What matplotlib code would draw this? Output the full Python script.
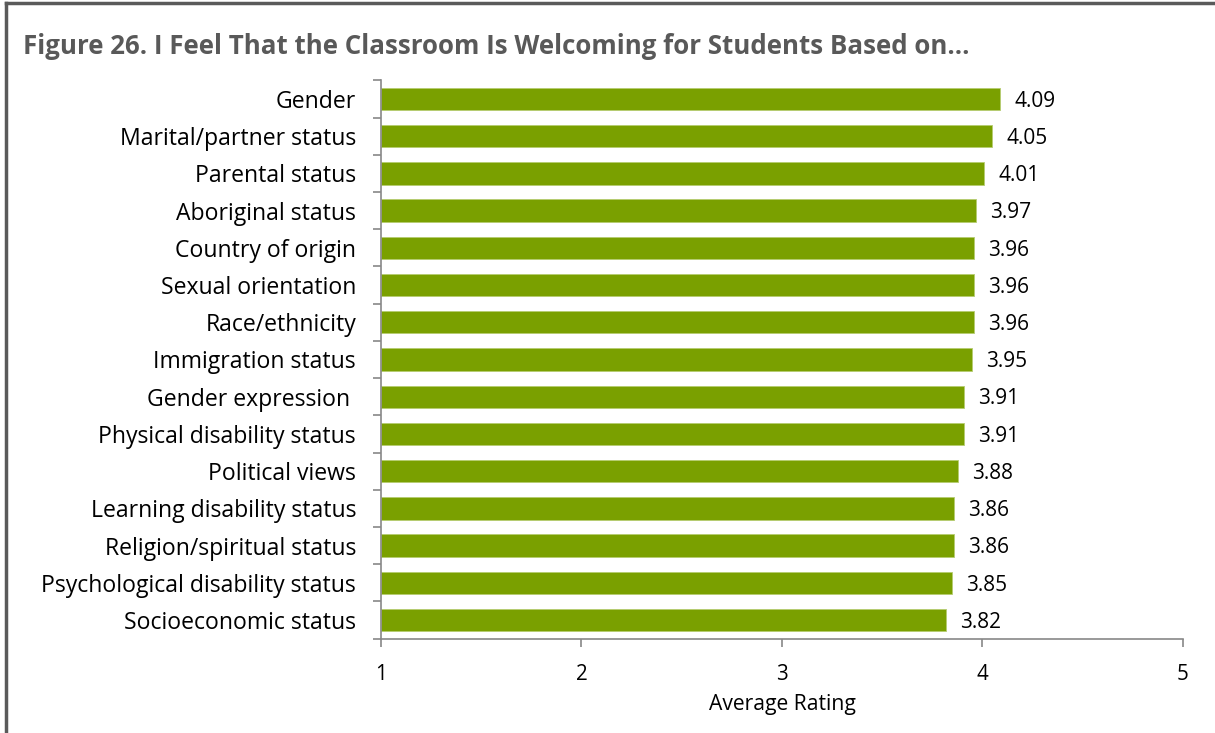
import numpy as np
import matplotlib.pyplot as plt
from matplotlib.lines import Line2D

categories = [
    "Gender", "Marital/partner status", "Parental status", "Aboriginal status",
    "Country of origin", "Sexual orientation", "Race/ethnicity", "Immigration status",
    "Gender expression ", "Physical disability status", "Political views",
    "Learning disability status", "Religion/spiritual status",
    "Psychological disability status", "Socioeconomic status",
]
ratings = [4.09, 4.05, 4.01, 3.97, 3.96, 3.96, 3.96, 3.95, 3.91, 3.91, 3.88,
           3.86, 3.86, 3.85, 3.82]
x_ticks = [1, 2, 3, 4, 5]

plt.rcParams['font.family'] = ['Open Sans', 'DejaVu Sans']

fig = plt.figure(figsize=(12.15, 7.33), dpi=100)
ax = fig.add_axes([0.3136, 0.1288, 0.66, 0.7615])

n = len(categories)
y = np.arange(n)
bar_color = '#7aa000'
ax.barh(y, np.array(ratings) - 1, left=1, height=0.6, color=bar_color,
        edgecolor='#b5cc70', linewidth=0.6)

for yi, v in zip(y, ratings):
    ax.text(v + 0.07, yi + 0.06, f"{v:.2f}", va='center', ha='left', fontsize=15)

ax.set_xlim(1, 5)
ax.set_ylim(n - 0.5, -0.5)
ax.set_xticks(x_ticks)
ax.set_xticklabels([str(t) for t in x_ticks], fontsize=14.8)
ax.set_yticks(y)
ax.set_yticklabels(categories, fontsize=16.6)
ax.set_yticks(np.arange(-0.5, n, 1), minor=True)
ax.tick_params(axis='y', which='major', length=0, pad=18)
ax.tick_params(axis='y', which='minor', length=6, color='#888888', width=1.2)
ax.tick_params(axis='x', length=6, color='#888888', width=1.2, pad=12.5)
ax.set_xlabel("Average Rating", fontsize=15.2, labelpad=6)

for s in ['top', 'right']:
    ax.spines[s].set_visible(False)
for s in ['left', 'bottom']:
    ax.spines[s].set_color('#888888')
    ax.spines[s].set_linewidth(1.2)

fig.text(0.019, 0.936, "Figure 26. I Feel That the Classroom Is Welcoming for Students Based on...",
         fontsize=18.6, fontweight='bold', color='#595959', ha='left', va='center')

# frame around the figure (top and left edges)
fig.add_artist(Line2D([0.005, 1.0], [0.996, 0.996], color='#5a5a5a', linewidth=2.5,
                      transform=fig.transFigure))
fig.add_artist(Line2D([0.005, 0.005], [0.0, 0.996], color='#5a5a5a', linewidth=2.5,
                      transform=fig.transFigure))

fig.savefig('out.png', dpi=100)
